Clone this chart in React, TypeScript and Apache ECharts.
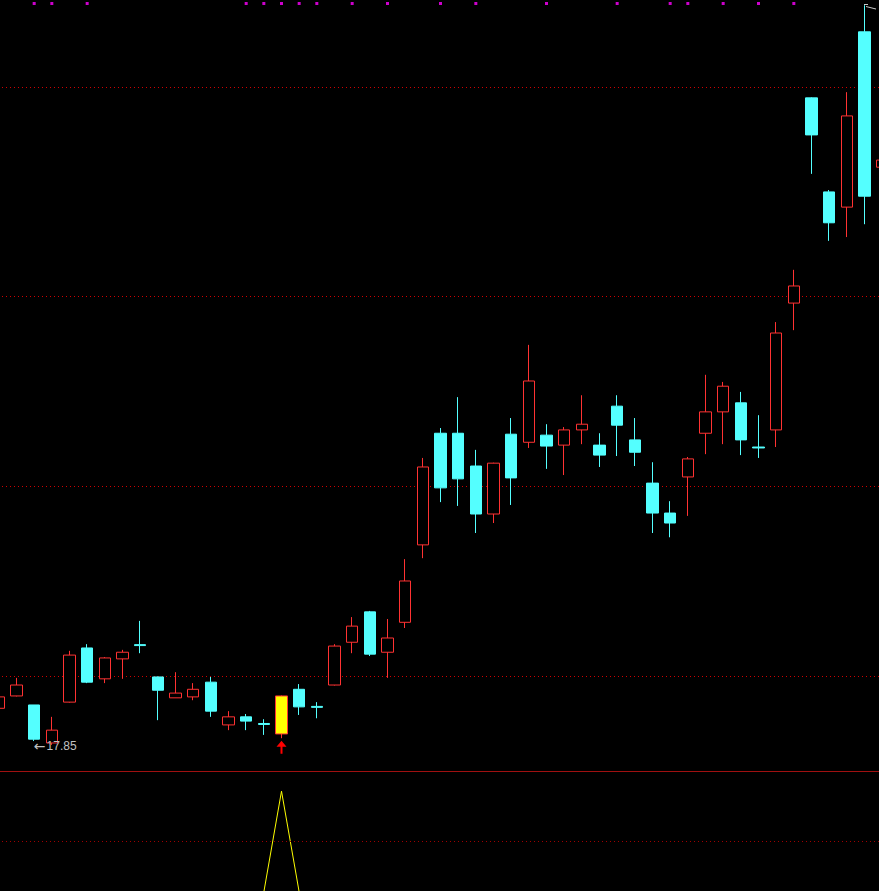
import React, { useEffect, useRef } from "react";
import * as echarts from "echarts";

const W = 879;
const H = 891;

// trading days (no dates are shown on the chart)
const days: string[] = [
  "D01","D02","D03","D04","D05","D06","D07","D08","D09","D10",
  "D11","D12","D13","D14","D15","D16","D17","D18","D19","D20",
  "D21","D22","D23","D24","D25","D26","D27","D28","D29","D30",
  "D31","D32","D33","D34","D35","D36","D37","D38","D39","D40",
  "D41","D42","D43","D44","D45","D46","D47","D48","D49","D50","D51",
];

const opens: number[] = [
  18.62, 18.88, 18.69, 17.89, 18.75, 19.89, 19.24, 19.66, 19.96, 19.28,
  18.84, 18.86, 19.17, 18.27, 18.44, 18.30, 18.08, 19.02, 18.66, 19.11,
  20.01, 20.65, 19.80, 20.43, 22.06, 24.41, 24.41, 23.72, 22.71, 24.39,
  24.22, 24.37, 24.16, 24.48, 24.16, 24.98, 24.27, 23.36, 22.73, 23.49,
  24.41, 24.86, 25.05, 24.12, 24.48, 27.15, 31.47, 29.49, 29.17, 32.86, 30.01,
];
const closes: number[] = [
  18.86, 19.11, 17.97, 18.16, 19.74, 19.17, 19.68, 19.80, 19.94, 19.00,
  18.94, 19.02, 18.56, 18.44, 18.35, 18.28, 18.88, 18.65, 18.64, 19.93,
  20.35, 19.76, 20.10, 21.30, 23.70, 23.26, 23.45, 22.71, 23.78, 23.47,
  25.51, 24.14, 24.48, 24.60, 23.95, 24.58, 24.01, 22.73, 22.52, 23.87,
  24.86, 25.40, 24.27, 24.10, 26.52, 27.51, 30.69, 28.84, 31.09, 29.40, 30.16,
];
const lows: number[] = [
  18.58, 18.87, 17.93, 17.85, 18.74, 19.15, 19.15, 19.24, 19.78, 18.37,
  18.84, 18.79, 18.44, 18.16, 18.16, 18.06, 17.99, 18.48, 18.41, 19.10,
  19.78, 19.72, 19.26, 20.31, 21.78, 22.96, 22.88, 22.31, 22.52, 22.90,
  24.10, 23.66, 23.53, 24.18, 23.70, 23.93, 23.72, 22.31, 22.22, 22.67,
  23.97, 24.18, 23.95, 23.89, 24.12, 26.58, 29.87, 28.46, 28.54, 28.81, 29.95,
];
const highs: number[] = [
  18.90, 19.26, 18.69, 18.44, 19.83, 19.97, 19.70, 19.85, 20.46, 19.29,
  19.38, 19.15, 19.28, 18.56, 18.50, 18.39, 18.89, 19.13, 18.75, 19.97,
  20.54, 20.67, 20.50, 21.76, 23.89, 24.52, 25.17, 24.06, 23.79, 24.73,
  26.27, 24.60, 24.54, 25.21, 24.41, 25.21, 24.73, 23.80, 22.98, 23.91,
  25.64, 25.49, 25.28, 24.79, 26.75, 27.85, 31.48, 29.53, 31.59, 33.42, 30.27,
];

// highlighted (yellow) signal day
const highlightDay = 16;

// magenta signal dots along the top
const dotDays: number[] = [2, 3, 5, 14, 15, 16, 17, 18, 20, 22, 25, 27, 31, 35, 38, 39, 41, 43, 45];

// price reference lines
const priceLevels: number[] = [19.289, 23.289, 27.289, 31.688];

// lower indicator
const signal: number[] = [
  0, 0, 0, 0, 0, 0, 0, 0, 0, 0,
  0, 0, 0, 0, 0, 0, 1, 0, 0, 0,
  0, 0, 0, 0, 0, 0, 0, 0, 0, 0,
  0, 0, 0, 0, 0, 0, 0, 0, 0, 0,
  0, 0, 0, 0, 0, 0, 0, 0, 0, 0, 0,
];
const signalLevels: number[] = [0.5];

const CYAN = "#54ffff";
const RED = "#ff3232";

export default function App() {
  const ref = useRef<HTMLDivElement>(null);

  useEffect(() => {
    document.body.style.margin = "0";
    document.body.style.background = "#000";
    const chart = echarts.init(ref.current!, null, { renderer: "svg" });

    const candleData = opens.map((o, i) => {
      const v = [o, closes[i], lows[i], highs[i]];
      if (i === highlightDay) {
        return { value: v, itemStyle: { color: "#ffff00", borderColor: RED } };
      }
      return v;
    });

    let lowIdx = 0;
    lows.forEach((l, i) => {
      if (l < lows[lowIdx]) lowIdx = i;
    });
    const minLow = lows[lowIdx];

    const gridBase = {
      left: -10,
      width: 901,
      outerBoundsMode: "none",
      containLabel: false,
    };
    const hiddenX = (gi: number) => ({
      type: "category" as const,
      gridIndex: gi,
      data: days,
      boundaryGap: true,
      axisLine: { show: false },
      axisTick: { show: false },
      axisLabel: { show: false },
      splitLine: { show: false },
    });
    const hiddenY = (gi: number, min: number, max: number) => ({
      type: "value" as const,
      gridIndex: gi,
      min,
      max,
      axisLine: { show: false },
      axisTick: { show: false },
      axisLabel: { show: false },
      splitLine: { show: false },
    });

    chart.setOption({
      animation: false,
      backgroundColor: "#000000",
      grid: [
        { ...gridBase, top: 0, height: 771 },
        { ...gridBase, top: 771, height: 121 },
        { ...gridBase, top: 0, height: 7 },
      ],
      xAxis: [
        hiddenX(0),
        {
          ...hiddenX(1),
          position: "top",
          axisLine: { show: true, onZero: false, lineStyle: { color: "#a01010", width: 1 } },
        },
        hiddenX(2),
      ],
      yAxis: [hiddenY(0, 17.3, 33.53), hiddenY(1, 0, 1.2), hiddenY(2, 0, 2)],
      series: [
        {
          type: "candlestick",
          xAxisIndex: 0,
          yAxisIndex: 0,
          z: 3,
          barWidth: 12,
          data: candleData,
          itemStyle: {
            color: "#000000",
            color0: CYAN,
            borderColor: RED,
            borderColor0: CYAN,
            borderWidth: 1,
          },
          markLine: {
            z: 1,
            silent: true,
            symbol: "none",
            label: { show: false },
            lineStyle: { color: "#d00000", width: 1, type: [1, 3] },
            data: priceLevels.map((v) => ({ yAxis: v })),
          },
          markPoint: {
            silent: true,
            data: [
              {
                coord: [lowIdx, minLow],
                symbol: "circle",
                symbolSize: 0,
                label: {
                  show: true,
                  position: "right",
                  distance: 0,
                  offset: [-18, 1],
                  formatter: "{a|\u2190}{b|" + minLow.toFixed(2) + "}",
                  rich: {
                    a: {
                      color: "#c0c0c0",
                      fontSize: 14,
                      fontFamily: "DejaVu Sans",
                    },
                    b: {
                      color: "#c0c0c0",
                      fontSize: 12,
                      fontFamily: "Liberation Sans, Arial, sans-serif",
                      padding: [0, 0, 0, 1],
                    },
                  },
                },
              },
              {
                coord: [highlightDay, lows[highlightDay]],
                symbol: "path://M5,0 L10,6 L6,6 L6,13 L4,13 L4,6 L0,6 Z",
                symbolSize: [10, 13],
                symbolOffset: [0, 9],
                itemStyle: { color: "#ff0000" },
                label: { show: false },
              },
            ],
          },
        },
        {
          type: "scatter",
          xAxisIndex: 2,
          yAxisIndex: 2,
          symbol: "rect",
          symbolSize: 3,
          itemStyle: { color: "#ff00ff" },
          data: dotDays.map((d) => [d, 1]),
        },
        {
          type: "line",
          xAxisIndex: 1,
          yAxisIndex: 1,
          data: signal,
          symbol: "none",
          lineStyle: { color: "#ffff00", width: 1 },
          markLine: {
            silent: true,
            symbol: "none",
            label: { show: false },
            lineStyle: { color: "#a00000", width: 1, type: [1, 3] },
            data: signalLevels.map((v) => ({ yAxis: v })),
          },
        },
      ],
      graphic: [
        {
          type: "polyline",
          silent: true,
          shape: { points: [[864, 4.5], [868, 4.5]] },
          style: { stroke: "#c8c8c8", lineWidth: 1, fill: null },
        },
        {
          type: "polyline",
          silent: true,
          shape: { points: [[866, 6.5], [870, 7.5], [876, 9]] },
          style: { stroke: "#c8c8c8", lineWidth: 1, fill: null },
        },
      ],
    });

    return () => chart.dispose();
  }, []);

  return <div ref={ref} style={{ width: W, height: H, background: "#000" }} />;
}
